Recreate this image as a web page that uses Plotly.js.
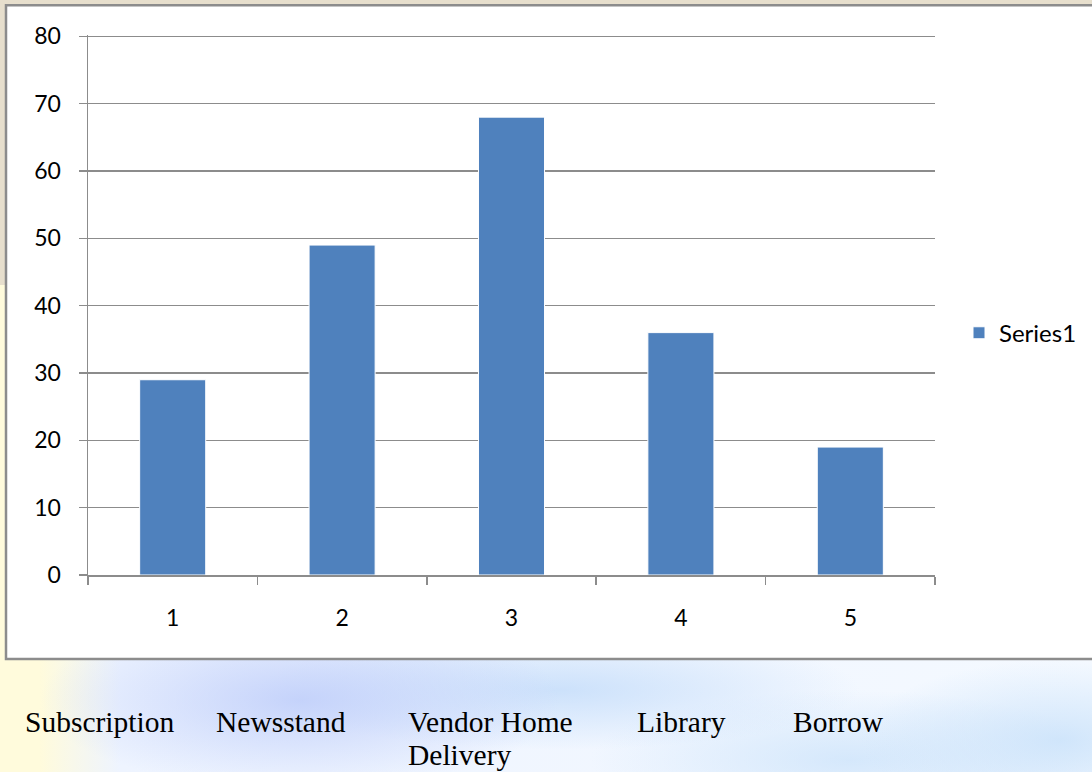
<!DOCTYPE html>
<html>
<head>
<meta charset="utf-8">
<script src="https://cdn.plot.ly/plotly-3.0.1.min.js"></script>
<style>
html,body{margin:0;padding:0;width:1092px;height:772px;overflow:hidden;}
body{
  background:
    radial-gradient(ellipse 260px 90px at 300px 700px, rgba(190,205,250,0.85), rgba(190,205,250,0) 100%),
    radial-gradient(ellipse 300px 60px at 560px 690px, rgba(195,220,250,0.8), rgba(195,220,250,0) 100%),
    radial-gradient(ellipse 200px 80px at 1060px 740px, rgba(200,225,250,0.8), rgba(200,225,250,0) 100%),
    radial-gradient(ellipse 260px 70px at 850px 760px, rgba(200,225,250,0.7), rgba(200,225,250,0) 100%),
    linear-gradient(to right, #fffbdc 0px, #fffbdc 40px, #eef4ff 120px, #f4f9ff 100%);
}
#top{position:absolute;left:0;top:0;width:1092px;height:285px;background:#e7dfcd;}
#chart{position:absolute;left:0;top:0;width:1092px;height:772px;}
</style>
</head>
<body>
<div id="top"></div>
<div id="chart"></div>
<script>
var categories = ["1", "2", "3", "4", "5"];
var values = [29, 49, 68, 36, 19];
var seriesName = "Series1";
var yTicks = [0, 10, 20, 30, 40, 50, 60, 70, 80];
var bottomLabels = ["Subscription", "Newsstand", "Vendor Home<br>Delivery", "Library", "Borrow"];

var W = 1092, H = 772;
var L = 88, R = 935, B = 575;
var yMax = 80.2;
var T = 36 - (yMax - 80) * (B - 36) / 80;
function px2x(p){ return (p - L) / (R - L); }
function px2y(p){ return (B - p) / (B - T); }

var labelX = [23, 214, 406, 635, 791];
var annotations = [];
bottomLabels.forEach(function(t, i){
  t.split('<br>').forEach(function(line, j){
    annotations.push({
      text: line, xref: 'paper', yref: 'paper', x: px2x(labelX[i]), y: px2y(733 + 33 * j),
      xanchor: 'left', yanchor: 'bottom', yshift: -7, align: 'left', showarrow: false,
      font: {family: 'Liberation Serif, Times New Roman, serif', size: 29.5, color: '#000'}
    });
  });
});

var trace = {
  type: 'bar', x: categories, y: values, name: seriesName,
  marker: {color: '#4f81bd', line: {color: '#ffffff', width: 1}},
  showlegend: true
};

var layout = {
  width: W, height: H,
  margin: {l: L, r: W - R, t: T, b: H - B, pad: 0, autoexpand: false},
  paper_bgcolor: 'rgba(0,0,0,0)',
  plot_bgcolor: 'rgba(0,0,0,0)',
  bargap: 0.61,
  font: {family: 'Lato, Open Sans, sans-serif', size: 23, color: '#000'},
  xaxis: {
    type: 'category', showgrid: false, showline: true, linecolor: '#8c8c8c', linewidth: 1.5,
    ticks: 'outside', tickson: 'boundaries', ticklen: 8, tickcolor: '#8c8c8c', tickwidth: 1.5,
    tickfont: {size: 23}, ticklabelstandoff: 22, zeroline: false, automargin: false
  },
  yaxis: {
    range: [0, yMax], tickvals: yTicks, showgrid: true, gridcolor: '#8c8c8c', gridwidth: 1.5,
    showline: true, linecolor: '#8c8c8c', linewidth: 1.5, ticks: 'outside', ticklen: 8,
    tickcolor: '#8c8c8c', tickwidth: 1.5, tickfont: {size: 23}, ticklabelstandoff: 13,
    zeroline: false, automargin: false
  },
  legend: {
    x: px2x(959), y: px2y(333), xanchor: 'left', yanchor: 'middle',
    font: {size: 24}, bgcolor: 'rgba(0,0,0,0)'
  },
  shapes: [{
    type: 'rect', xref: 'paper', yref: 'paper', layer: 'below',
    x0: px2x(6), x1: px2x(1100), y0: px2y(659), y1: px2y(5),
    fillcolor: '#ffffff', line: {color: '#8c8c8c', width: 2.5}
  }],
  annotations: annotations
};

Plotly.newPlot('chart', [trace], layout, {displayModeBar: false, staticPlot: true});
</script>
</body>
</html>
